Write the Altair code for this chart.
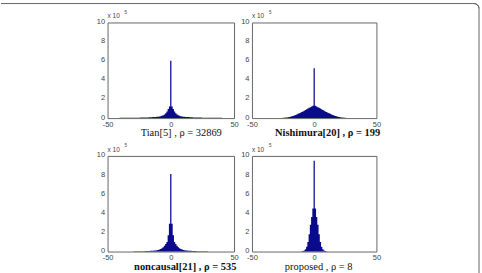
import altair as alt
import pandas as pd

NAVY = "#0a0a8c"

# residual value bins (integer offsets)
bins = list(range(-50, 51))

# counts per bin, in units of 10^5
tian = [
    0.02, 0.02, 0.02, 0.02, 0.02, 0.02, 0.02, 0.02, 0.02, 0.02,
    0.03, 0.03, 0.03, 0.03, 0.03, 0.03, 0.03, 0.03, 0.03, 0.03,
    0.03, 0.03, 0.03, 0.04, 0.04, 0.04, 0.05, 0.05, 0.05, 0.06,
    0.06, 0.07, 0.07, 0.08, 0.08, 0.09, 0.10, 0.11, 0.12, 0.13,
    0.15, 0.17, 0.20, 0.24, 0.30, 0.38, 0.50, 0.70, 0.95, 1.20,
    6.00,
    1.20, 0.95, 0.70, 0.50, 0.38, 0.30, 0.24, 0.20, 0.17, 0.15,
    0.13, 0.12, 0.11, 0.10, 0.09, 0.08, 0.08, 0.07, 0.07, 0.06,
    0.06, 0.05, 0.05, 0.05, 0.04, 0.04, 0.04, 0.03, 0.03, 0.03,
    0.03, 0.03, 0.03, 0.03, 0.03, 0.03, 0.03, 0.03, 0.03, 0.03,
    0.02, 0.02, 0.02, 0.02, 0.02, 0.02, 0.02, 0.02, 0.02, 0.02,
]

nishimura = [
    0.0, 0.0, 0.0, 0.0, 0.0, 0.0, 0.0, 0.0, 0.0, 0.0,
    0.0, 0.0, 0.0, 0.0, 0.0, 0.0, 0.0, 0.0, 0.0, 0.0,
    0.003, 0.005, 0.008, 0.012, 0.018, 0.026, 0.036, 0.05, 0.068, 0.09,
    0.12, 0.15, 0.19, 0.23, 0.28, 0.33, 0.38, 0.44, 0.50, 0.56,
    0.63, 0.70, 0.77, 0.85, 0.92, 1.00, 1.07, 1.14, 1.21, 1.28,
    5.20,
    1.28, 1.21, 1.14, 1.07, 1.00, 0.92, 0.85, 0.77, 0.70, 0.63,
    0.56, 0.50, 0.44, 0.38, 0.33, 0.28, 0.23, 0.19, 0.15, 0.12,
    0.09, 0.068, 0.05, 0.036, 0.026, 0.018, 0.012, 0.008, 0.005, 0.003,
    0.0, 0.0, 0.0, 0.0, 0.0, 0.0, 0.0, 0.0, 0.0, 0.0,
    0.0, 0.0, 0.0, 0.0, 0.0, 0.0, 0.0, 0.0, 0.0, 0.0,
]

noncausal = [
    0.0, 0.0, 0.0, 0.0, 0.0, 0.0, 0.0, 0.0, 0.0, 0.0,
    0.005, 0.006, 0.007, 0.008, 0.009, 0.010, 0.011, 0.012, 0.013, 0.014,
    0.015, 0.017, 0.019, 0.021, 0.023, 0.025, 0.028, 0.031, 0.035, 0.04,
    0.045, 0.05, 0.055, 0.06, 0.07, 0.08, 0.09, 0.10, 0.12, 0.14,
    0.17, 0.21, 0.27, 0.35, 0.45, 0.60, 0.80, 1.00, 1.70, 2.90,
    8.10,
    2.90, 1.70, 1.00, 0.80, 0.60, 0.45, 0.35, 0.27, 0.21, 0.17,
    0.14, 0.12, 0.10, 0.09, 0.08, 0.07, 0.06, 0.055, 0.05, 0.045,
    0.04, 0.035, 0.031, 0.028, 0.025, 0.023, 0.021, 0.019, 0.017, 0.015,
    0.014, 0.013, 0.012, 0.011, 0.010, 0.009, 0.008, 0.007, 0.006, 0.005,
    0.0, 0.0, 0.0, 0.0, 0.0, 0.0, 0.0, 0.0, 0.0, 0.0,
]

proposed = [
    0.0, 0.0, 0.0, 0.0, 0.0, 0.0, 0.0, 0.0, 0.0, 0.0,
    0.0, 0.0, 0.0, 0.0, 0.0, 0.0, 0.0, 0.0, 0.0, 0.0,
    0.0, 0.0, 0.0, 0.0, 0.0, 0.0, 0.0, 0.0, 0.0, 0.0,
    0.0, 0.0, 0.0, 0.0, 0.0, 0.0, 0.0, 0.0, 0.0, 0.0,
    0.02, 0.05, 0.12, 0.25, 0.50, 1.00, 1.80, 2.80, 3.60, 4.50,
    9.50,
    4.50, 3.60, 2.80, 1.80, 1.00, 0.50, 0.25, 0.12, 0.05, 0.02,
    0.0, 0.0, 0.0, 0.0, 0.0, 0.0, 0.0, 0.0, 0.0, 0.0,
    0.0, 0.0, 0.0, 0.0, 0.0, 0.0, 0.0, 0.0, 0.0, 0.0,
    0.0, 0.0, 0.0, 0.0, 0.0, 0.0, 0.0, 0.0, 0.0, 0.0,
    0.0, 0.0, 0.0, 0.0, 0.0, 0.0, 0.0, 0.0, 0.0, 0.0,
]

x_ticks = [-50, 0, 50]
y_ticks = [0, 2, 4, 6, 8, 10]

titles = [
    "Tian[5] , ρ = 32869",
    "Nishimura[20] , ρ = 199",
    "noncausal[21] , ρ = 535",
    "proposed , ρ = 8",
]

W, H = 127, 96
one = pd.DataFrame({"k": [0]})

# plain hyphen for negative tick labels
HYPHEN = "datum.value < 0 ? '-' + abs(datum.value) : '' + datum.value"


def panel(values, title, weight, tx, ty, width, decor=False):
    df = pd.DataFrame({"bin": bins, "count": values})
    x = alt.X(
        "bin:Q",
        scale=alt.Scale(domain=[-50, 50], nice=False, zero=False),
        axis=alt.Axis(values=x_ticks, title=None, grid=False, domain=False,
                      ticks=False, labelFlush=False, labelPadding=2,
                      labelExpr=HYPHEN,
                      labelFontSize=7.5, labelColor="#444",
                      labelFont="Liberation Sans"),
    )
    y = alt.Y(
        "count:Q",
        scale=alt.Scale(domain=[0, 10], nice=False),
        axis=alt.Axis(values=y_ticks, title=None, grid=False, domain=False,
                      ticks=False, labelPadding=3, labelOffset=-1,
                      labelFontSize=7.5, labelColor="#444",
                      labelFont="Liberation Sans"),
    )
    hist = alt.Chart(df).mark_area(interpolate="step", color=NAVY).encode(x=x, y=y)

    base = alt.Chart(one)
    scale_txt = base.mark_text(text="x 10", align="left", baseline="middle",
                               fontSize=6.5, color="#444",
                               font="Liberation Sans").encode(
        x=alt.value(0), y=alt.value(-6))
    scale_exp = base.mark_text(text="5", align="left", baseline="middle",
                               fontSize=4.5, color="#444",
                               font="Liberation Sans").encode(
        x=alt.value(17), y=alt.value(-10))
    label = base.mark_text(text=title, align="center", baseline="middle",
                           fontSize=10.5, fontWeight=weight, color="#111",
                           font="Liberation Serif").encode(
        x=alt.value(tx), y=alt.value(ty))

    layers = [hist, scale_txt, scale_exp, label]
    if decor:
        # full canvas extent and the rounded figure frame
        canvas = base.mark_rect(opacity=0).encode(
            x=alt.value(-107), x2=alt.value(375),
            y=alt.value(-21), y2=alt.value(252))
        top = base.mark_rule(color="#666", strokeWidth=1).encode(
            x=alt.value(-107), x2=alt.value(368), y=alt.value(-19))
        right = base.mark_rule(color="#666", strokeWidth=1).encode(
            x=alt.value(373), y=alt.value(-14), y2=alt.value(252))
        corner = base.mark_arc(radius=5, radius2=5, theta=0, theta2=1.5708,
                               fillOpacity=0, stroke="#666",
                               strokeWidth=1).encode(
            x=alt.value(368), y=alt.value(-14))
        layers = [canvas, top, right, corner] + layers
    return alt.layer(*layers).properties(width=width, height=H)


p1 = panel(tian, titles[0], "normal", 74, 111, W, decor=True)
p2 = panel(nishimura, titles[1], "bold", 76, 111, 125)
p3 = panel(noncausal, titles[2], "bold", 78, 112, W)
p4 = panel(proposed, titles[3], "normal", 67, 112, 125)

chart = alt.concat(
    p1, p2, p3, p4,
    columns=2,
    spacing={"row": 38, "column": 18},
    bounds="flush",
).properties(
    padding=0,
    background="white",
).configure_view(
    stroke="#666",
    strokeWidth=1,
)

chart.save("out.html", embed_options={"renderer": "svg", "actions": False})
